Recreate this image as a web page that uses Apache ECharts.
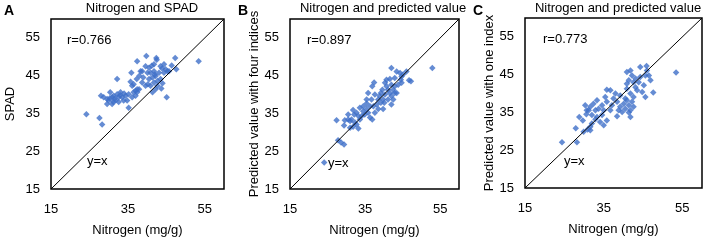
<!DOCTYPE html>
<html>
<head>
<meta charset="utf-8">
<script src="https://cdn.jsdelivr.net/npm/echarts@6/dist/echarts.min.js"></script>
<style>
  html, body { margin: 0; padding: 0; background: #fff; }
  #main { width: 706px; height: 242px; }
</style>
</head>
<body>
<div id="main"></div>
<script>
// panel A: nitrogen vs SPAD
var nitrogenA = [24.2, 27.6, 28.3, 28.0, 32.2, 35.2, 53.4, 39.8, 37.4, 42.4, 42.5, 44.4, 47.3, 46.4, 47.6, 45.3,
  43.7, 45.1, 41.4, 40.2, 38.3, 35.9, 35.7, 36.1, 37.0, 37.3, 39.0, 40.5, 40.9, 41.8, 42.2, 42.7, 41.8, 41.4,
  43.1, 43.5, 40.5, 38.7, 37.9, 36.5, 35.2, 34.4, 33.5, 33.9, 32.6, 31.3, 30.4, 30.3, 30.0, 31.2, 31.8, 29.6,
  30.9, 32.6, 33.1, 32.2, 34.8, 36.1, 37.0, 37.4, 38.7, 39.6, 40.1, 41.8, 43.5, 44.4, 44.8, 45.7, 40.9, 39.6,
  29.6, 30.9, 28.7, 37.4, 42.7, 42.2, 36.5, 33.0, 31.6, 34.0, 42.0, 43.9, 41.2, 44.0, 38.0];
var spadA = [34.8, 33.8, 32.1, 39.7, 44.1, 36.5, 48.8, 50.2, 48.8, 49.7, 49.2, 48.0, 49.7, 47.7, 46.7, 46.2,
  41.6, 39.3, 40.6, 42.7, 46.2, 45.8, 43.4, 42.3, 41.0, 44.1, 44.5, 47.1, 45.8, 46.2, 44.9, 43.6, 43.2, 44.5,
  45.8, 44.1, 44.1, 43.2, 41.4, 40.6, 40.1, 39.7, 39.3, 38.4, 39.3, 39.7, 40.6, 39.0, 38.4, 38.0, 38.4, 38.8,
  39.3, 38.0, 40.6, 40.1, 38.4, 39.3, 39.7, 40.6, 46.2, 47.5, 45.8, 48.0, 47.5, 45.8, 46.7, 46.2, 42.3, 42.3,
  37.5, 37.5, 39.3, 41.4, 42.3, 41.4, 42.7, 39.8, 38.9, 40.3, 45.3, 46.9, 47.6, 43.0, 45.0];

// panel B: nitrogen vs predicted value with four indices
var nitrogenB = [24.1, 27.8, 28.6, 29.4, 27.4, 29.4, 30.5, 31.0, 31.8, 32.3, 30.5, 31.4, 32.7, 33.2, 32.1, 31.8,
  31.0, 33.6, 34.1, 34.5, 34.9, 35.4, 35.8, 36.3, 36.9, 35.4, 35.8, 35.4, 36.7, 36.9, 37.4, 37.6, 38.5, 38.1,
  37.2, 36.3, 38.9, 39.8, 39.6, 40.3, 40.7, 41.1, 40.7, 42.0, 43.4, 44.3, 44.7, 46.0, 46.7, 47.2, 52.9, 44.7,
  43.8, 42.9, 42.0, 41.6, 42.0, 42.5, 42.0, 41.1, 42.9, 42.5, 43.4, 44.5, 45.1, 40.1, 39.2, 34.5, 33.6, 32.7,
  33.2, 40.3, 41.6, 39.8, 39.2, 29.6, 42.9, 37.6, 38.5];
var predB = [22.0, 27.9, 27.3, 26.8, 33.2, 31.8, 33.4, 31.2, 31.5, 32.6, 34.7, 33.4, 32.1, 31.0, 34.7, 35.9,
  33.0, 33.4, 34.3, 35.6, 34.7, 36.1, 35.2, 33.9, 33.4, 38.7, 40.4, 37.6, 38.7, 42.2, 43.2, 40.0, 38.7, 37.4,
  36.9, 36.9, 39.6, 36.2, 41.3, 40.0, 42.2, 41.3, 43.9, 47.0, 46.1, 45.7, 44.8, 46.1, 43.8, 43.5, 47.0, 43.1,
  42.6, 42.2, 42.6, 40.4, 39.6, 38.7, 37.4, 38.7, 40.4, 41.3, 40.4, 43.9, 45.3, 37.8, 37.8, 36.9, 36.5, 35.2,
  34.3, 43.1, 44.1, 38.7, 40.4, 33.2, 44.4, 35.2, 36.2];

// panel C: nitrogen vs predicted value with one index
var nitrogenC = [24.4, 28.2, 27.9, 29.7, 28.8, 29.9, 30.9, 31.6, 32.0, 30.6, 31.2, 30.3, 31.6, 32.4, 32.9, 32.0,
  33.3, 34.1, 34.6, 35.8, 33.7, 35.0, 34.6, 35.8, 37.1, 36.7, 35.8, 36.7, 38.0, 38.4, 38.8, 37.5, 39.2, 40.5,
  40.9, 40.9, 41.8, 42.2, 41.4, 42.6, 40.9, 41.8, 40.9, 41.4, 41.8, 42.2, 42.6, 43.5, 43.1, 44.3, 45.9, 45.6,
  46.5, 46.9, 45.2, 44.8, 45.6, 47.6, 44.3, 43.9, 53.4, 40.1, 40.5, 39.7, 38.4, 32.9, 31.6, 30.7, 33.3, 42.6,
  41.8, 41.4, 35.0, 43.1, 46.0, 39.2, 35.4];
var predC = [27.1, 27.1, 30.8, 32.9, 33.8, 29.9, 30.5, 31.2, 32.1, 34.5, 35.6, 36.9, 36.5, 37.3, 35.6, 34.3,
  33.8, 32.5, 34.3, 32.9, 36.0, 35.6, 36.9, 37.8, 36.9, 35.6, 41.0, 40.9, 40.0, 37.8, 35.6, 38.7, 39.5, 38.7,
  41.3, 45.7, 46.1, 44.8, 43.5, 43.0, 42.6, 40.0, 38.2, 36.9, 35.6, 37.8, 39.1, 40.9, 41.7, 47.0, 47.3, 44.8,
  44.8, 43.5, 42.2, 40.4, 39.1, 40.3, 44.4, 43.0, 45.6, 37.3, 36.0, 35.1, 34.0, 33.2, 30.3, 35.6, 38.2, 36.5,
  33.8, 35.0, 31.6, 44.0, 46.1, 36.5, 39.1];

// y=x reference line end points
var diagX = [15, 60];
var diagY = [15, 60];

// axis label values
var xTicks = [15, 35, 55];
var yTicks = [15, 25, 35, 45, 55];
var axisMin = 15;
var axisMax = 60;

var panelTitles = ['Nitrogen and SPAD', 'Nitrogen and predicted value', 'Nitrogen and predicted value'];
var yNames = ['SPAD', 'Predicted value with four indices', 'Predicted value with one index'];
var xName = 'Nitrogen (mg/g)';
var rLabels = ['r=0.766', 'r=0.897', 'r=0.773'];
var panelLetters = ['A', 'B', 'C'];

function zip(xs, ys) {
  var out = [];
  for (var i = 0; i < xs.length; i++) out.push([xs[i], ys[i]]);
  return out;
}

var FONT = 'Liberation Sans, Arial, sans-serif';
var grids = [
  { left: 51, top: 19, width: 173, height: 172 },
  { left: 290, top: 19, width: 169, height: 171 },
  { left: 525, top: 18, width: 177, height: 170 }
];
var nameGapY = [34, 28, 29];
var points = [zip(nitrogenA, spadA), zip(nitrogenB, predB), zip(nitrogenC, predC)];

var option = {
  animation: false,
  grid: grids.map(function (g) {
    return {
      left: g.left, top: g.top, width: g.width, height: g.height,
      show: true, borderColor: '#000', borderWidth: 1.5, backgroundColor: 'transparent'
    };
  }),
  xAxis: grids.map(function (g, i) {
    return {
      gridIndex: i, type: 'value', min: axisMin, max: axisMax,
      name: xName, nameLocation: 'middle', nameGap: 35,
      nameTextStyle: { fontFamily: FONT, fontSize: 13, color: '#000' },
      axisLine: { show: false }, axisTick: { show: false }, splitLine: { show: false },
      axisLabel: { customValues: xTicks, margin: 14, fontFamily: FONT, fontSize: 13, color: '#000' }
    };
  }),
  yAxis: grids.map(function (g, i) {
    return {
      gridIndex: i, type: 'value', min: axisMin, max: axisMax,
      name: yNames[i], nameLocation: 'middle', nameGap: nameGapY[i],
      nameTextStyle: { fontFamily: FONT, fontSize: 13, color: '#000' },
      axisLine: { show: false }, axisTick: { show: false }, splitLine: { show: false },
      axisLabel: { customValues: yTicks, margin: 11, fontFamily: FONT, fontSize: 13, color: '#000' }
    };
  }),
  series: [],
  graphic: []
};

for (var i = 0; i < 3; i++) {
  option.series.push({
    type: 'line', xAxisIndex: i, yAxisIndex: i,
    data: zip(diagX, diagY), showSymbol: false, silent: true,
    lineStyle: { color: '#000', width: 1 }
  });
  option.series.push({
    type: 'scatter', xAxisIndex: i, yAxisIndex: i,
    data: points[i], symbol: 'diamond', symbolSize: 6.5,
    itemStyle: { color: '#3E6FC8' }
  });
}

// titles, panel letters and text boxes
var titleX = [142, 383, 618];
var letterX = [4, 238, 473];
var rPos = [[67, 34], [307, 34], [543, 33]];
var eqPos = [[87, 155], [328, 157], [564, 155]];
for (var k = 0; k < 3; k++) {
  option.graphic.push({
    type: 'text', x: titleX[k], y: 2,
    style: { text: panelTitles[k], font: '13px ' + FONT, fill: '#000', textAlign: 'center' }
  });
  option.graphic.push({
    type: 'text', x: letterX[k], y: 4,
    style: { text: panelLetters[k], font: 'bold 14px ' + FONT, fill: '#000' }
  });
  option.graphic.push({
    type: 'text', x: rPos[k][0], y: rPos[k][1],
    style: { text: rLabels[k], font: '13px ' + FONT, fill: '#000' }
  });
  option.graphic.push({
    type: 'text', x: eqPos[k][0], y: eqPos[k][1],
    style: { text: 'y=x', font: '13px ' + FONT, fill: '#000' }
  });
}

var chart = echarts.init(document.getElementById('main'));
chart.setOption(option);
</script>
</body>
</html>
